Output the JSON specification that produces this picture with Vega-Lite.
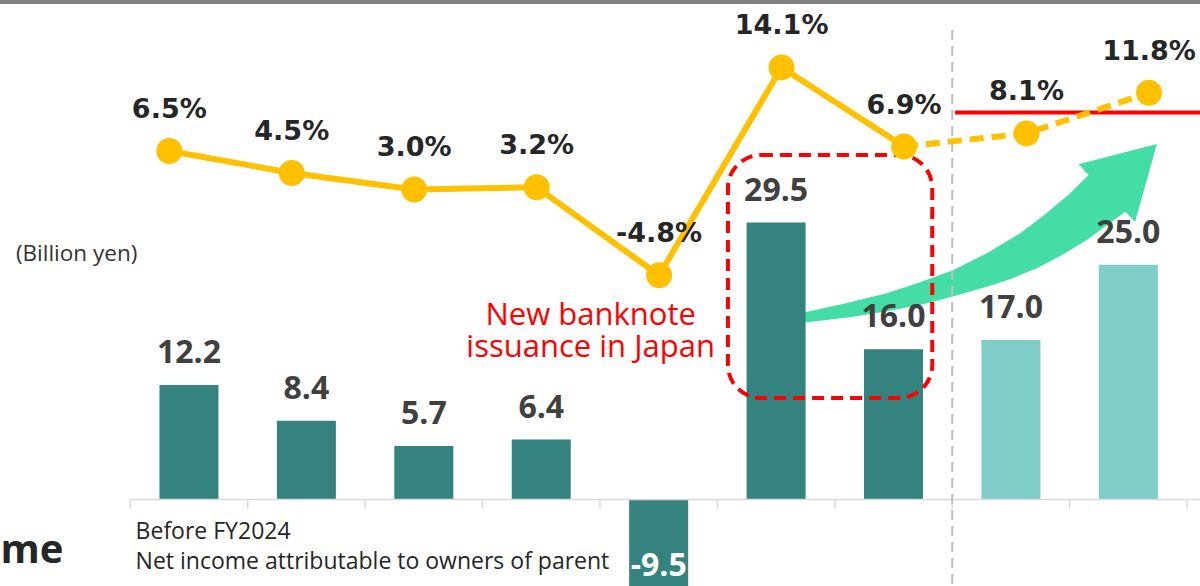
{
  "$schema": "https://vega.github.io/schema/vega-lite/v6.json",
  "width": 1200,
  "height": 586,
  "autosize": {"type": "none"},
  "padding": 0,
  "background": "white",
  "config": {"view": {"stroke": null}},
  "datasets": {
    "main": [
      {"idx": 0, "income": 12.2, "ratio": 6.5, "kind": "Actual"},
      {"idx": 1, "income": 8.4, "ratio": 4.5, "kind": "Actual"},
      {"idx": 2, "income": 5.7, "ratio": 3.0, "kind": "Actual"},
      {"idx": 3, "income": 6.4, "ratio": 3.2, "kind": "Actual"},
      {"idx": 4, "income": -9.5, "ratio": -4.8, "kind": "Actual"},
      {"idx": 5, "income": 29.5, "ratio": 14.1, "kind": "Actual"},
      {"idx": 6, "income": 16.0, "ratio": 6.9, "kind": "Actual"},
      {"idx": 7, "income": 17.0, "ratio": 8.1, "kind": "Forecast"},
      {"idx": 8, "income": 25.0, "ratio": 11.8, "kind": "Forecast"}
    ],
    "edges": [
      {"edge": -0.5}, {"edge": 0.5}, {"edge": 1.5}, {"edge": 2.5}, {"edge": 3.5},
      {"edge": 4.5}, {"edge": 5.5}, {"edge": 6.5}, {"edge": 7.5}, {"edge": 8.5}
    ]
  },
  "data": {"name": "main"},
  "transform": [
    {"calculate": "(datum.income < 0 ? '-' : '') + format(abs(datum.income), '.1f')", "as": "incomeLabel"},
    {"calculate": "(datum.ratio < 0 ? '-' : '') + format(abs(datum.ratio), '.1f') + '%'", "as": "ratioLabel"}
  ],
  "layer": [
    {
      "layer": [
        {
          "data": {"values": [{}]},
          "mark": {"type": "rule", "color": "#808080", "strokeWidth": 4},
          "encoding": {
            "y": {"datum": 52.99, "type": "quantitative", "scale": {"domain": [-9.201, 53.206], "nice": false}, "axis": null}
          }
        },
        {
          "data": {"values": [{}]},
          "mark": {"type": "point", "shape": "M-194.7,79.5 L-178.7,76 L-136.7,66.8 L-94.7,56.6 L-61.4,45.6 L-28,33.3 L5.3,16.5 L38.6,-3.4 L63.6,-22.4 L88.6,-43.4 L107,-61.7 L97,-72.4 L175.3,-92.7 L153.6,-15 L143.6,-25 L105.3,3.3 L80,18.5 L55.3,31.6 L30,42 L5.3,50 L-28,59.6 L-61.4,68.3 L-94.7,74.5 L-128,80 L-178.7,86 L-194.7,87.5 Z", "size": 4, "filled": true, "opacity": 1, "color": "#43DDA5", "strokeWidth": 0},
          "encoding": {
            "x": {"datum": 6.75, "type": "quantitative", "scale": {"domain": [-1.5667, 8.5676], "nice": false}, "axis": null},
            "y": {"datum": 28, "type": "quantitative", "scale": {"domain": [-9.201, 53.206], "nice": false}, "axis": null}
          }
        },
        {
          "mark": {"type": "bar", "width": 59, "orient": "vertical"},
          "encoding": {
            "x": {"field": "idx", "type": "quantitative", "scale": {"domain": [-1.5667, 8.5676], "nice": false}, "axis": null},
            "y": {"field": "income", "type": "quantitative", "scale": {"domain": [-9.201, 53.206], "nice": false}, "axis": null},
            "color": {"field": "kind", "type": "nominal", "scale": {"domain": ["Actual", "Forecast"], "range": ["#35837E", "#7FCDC7"]}, "legend": null}
          }
        },
        {
          "data": {"values": [{}]},
          "mark": {"type": "rule", "color": "#D9D9D9", "strokeWidth": 1.5},
          "encoding": {
            "x": {"datum": -0.5, "type": "quantitative", "scale": {"domain": [-1.5667, 8.5676], "nice": false}, "axis": null},
            "x2": {"datum": 8.7},
            "y": {"datum": 0, "type": "quantitative", "scale": {"domain": [-9.201, 53.206], "nice": false}, "axis": null}
          }
        },
        {
          "data": {"name": "edges"},
          "mark": {"type": "rule", "color": "#D9D9D9", "strokeWidth": 1.5},
          "encoding": {
            "x": {"field": "edge", "type": "quantitative", "scale": {"domain": [-1.5667, 8.5676], "nice": false}, "axis": null},
            "y": {"datum": 0, "type": "quantitative", "scale": {"domain": [-9.201, 53.206], "nice": false}, "axis": null},
            "y2": {"datum": -0.96}
          }
        },
        {
          "transform": [{"filter": "datum.income >= 0"}],
          "mark": {"type": "text", "font": "Open Sans", "fontWeight": "bold", "fontSize": 32, "color": "#404040", "dy": -22, "baseline": "alphabetic", "align": "center"},
          "encoding": {
            "x": {"field": "idx", "type": "quantitative", "scale": {"domain": [-1.5667, 8.5676], "nice": false}, "axis": null},
            "y": {"field": "income", "type": "quantitative", "scale": {"domain": [-9.201, 53.206], "nice": false}, "axis": null},
            "text": {"field": "incomeLabel"}
          }
        },
        {
          "transform": [{"filter": "datum.income < 0"}],
          "mark": {"type": "text", "font": "Open Sans", "fontWeight": "bold", "fontSize": 32, "color": "#FFFFFF", "dy": -13, "baseline": "alphabetic", "align": "center"},
          "encoding": {
            "x": {"field": "idx", "type": "quantitative", "scale": {"domain": [-1.5667, 8.5676], "nice": false}, "axis": null},
            "y": {"field": "income", "type": "quantitative", "scale": {"domain": [-9.201, 53.206], "nice": false}, "axis": null},
            "text": {"field": "incomeLabel"}
          }
        },
        {
          "data": {"values": [{}]},
          "mark": {"type": "rule", "color": "#BFBFBF", "strokeWidth": 2, "strokeDash": [10, 6]},
          "encoding": {
            "x": {"datum": 6.5, "type": "quantitative", "scale": {"domain": [-1.5667, 8.5676], "nice": false}, "axis": null},
            "y": {"datum": 50, "type": "quantitative", "scale": {"domain": [-9.201, 53.206], "nice": false}, "axis": null},
            "y2": {"datum": -9.2}
          }
        },
        {
          "data": {"values": [{}]},
          "mark": {"type": "rect", "filled": false, "color": "#FF0000", "strokeWidth": 4, "strokeDash": [12, 7], "cornerRadius": 33},
          "encoding": {
            "x": {"datum": 4.59, "type": "quantitative", "scale": {"domain": [-1.5667, 8.5676], "nice": false}, "axis": null},
            "x2": {"datum": 6.33},
            "y": {"datum": 36.7, "type": "quantitative", "scale": {"domain": [-9.201, 53.206], "nice": false}, "axis": null},
            "y2": {"datum": 10.82}
          }
        },
        {
          "data": {"values": [{}]},
          "mark": {"type": "text", "text": ["New banknote", "issuance in Japan"], "font": "Open Sans", "fontSize": 31, "color": "#FF0000", "align": "center", "baseline": "alphabetic", "lineHeight": 32},
          "encoding": {
            "x": {"datum": 3.4206, "type": "quantitative", "scale": {"domain": [-1.5667, 8.5676], "nice": false}, "axis": null},
            "y": {"datum": 18.59, "type": "quantitative", "scale": {"domain": [-9.201, 53.206], "nice": false}, "axis": null}
          }
        },
        {
          "data": {"values": [{}]},
          "mark": {"type": "text", "text": "(Billion yen)", "font": "Open Sans", "fontSize": 22.5, "color": "#333333", "align": "left", "baseline": "alphabetic"},
          "encoding": {
            "x": {"datum": -1.4738, "type": "quantitative", "scale": {"domain": [-1.5667, 8.5676], "nice": false}, "axis": null},
            "y": {"datum": 25.44, "type": "quantitative", "scale": {"domain": [-9.201, 53.206], "nice": false}, "axis": null}
          }
        },
        {
          "data": {"values": [{}]},
          "mark": {"type": "text", "text": ["Before FY2024", "Net income attributable to owners of parent"], "font": "Open Sans", "fontSize": 23, "color": "#262626", "align": "left", "baseline": "alphabetic", "lineHeight": 30},
          "encoding": {
            "x": {"datum": -0.4544, "type": "quantitative", "scale": {"domain": [-1.5667, 8.5676], "nice": false}, "axis": null},
            "y": {"datum": -4.196, "type": "quantitative", "scale": {"domain": [-9.201, 53.206], "nice": false}, "axis": null}
          }
        },
        {
          "data": {"values": [{}]},
          "mark": {"type": "text", "text": "me", "font": "Open Sans", "fontWeight": "bold", "fontSize": 40, "color": "#262626", "align": "right", "baseline": "alphabetic"},
          "encoding": {
            "x": {"datum": -1.0684, "type": "quantitative", "scale": {"domain": [-1.5667, 8.5676], "nice": false}, "axis": null},
            "y": {"datum": -6.78, "type": "quantitative", "scale": {"domain": [-9.201, 53.206], "nice": false}, "axis": null}
          }
        }
      ]
    },
    {
      "layer": [
        {
          "data": {"values": [{}]},
          "mark": {"type": "rule", "color": "#FF0000", "strokeWidth": 4},
          "encoding": {
            "x": {"datum": 6.417, "type": "quantitative", "scale": {"domain": [-1.3825, 8.4167], "nice": false}, "axis": null},
            "x2": {"datum": 8.6},
            "y": {"datum": 10, "type": "quantitative", "scale": {"domain": [-33.045, 20.227], "nice": false}, "axis": null}
          }
        },
        {
          "transform": [{"filter": "datum.idx <= 6"}],
          "mark": {"type": "line", "color": "#FFC000", "strokeWidth": 6},
          "encoding": {
            "x": {"field": "idx", "type": "quantitative", "scale": {"domain": [-1.3825, 8.4167], "nice": false}, "axis": null},
            "y": {"field": "ratio", "type": "quantitative", "scale": {"domain": [-33.045, 20.227], "nice": false}, "axis": null}
          }
        },
        {
          "transform": [{"filter": "datum.idx >= 6"}],
          "mark": {"type": "line", "color": "#FFC000", "strokeWidth": 6, "strokeDash": [14, 8]},
          "encoding": {
            "x": {"field": "idx", "type": "quantitative", "scale": {"domain": [-1.3825, 8.4167], "nice": false}, "axis": null},
            "y": {"field": "ratio", "type": "quantitative", "scale": {"domain": [-33.045, 20.227], "nice": false}, "axis": null}
          }
        },
        {
          "mark": {"type": "circle", "size": 675, "color": "#FFC000", "opacity": 1},
          "encoding": {
            "x": {"field": "idx", "type": "quantitative", "scale": {"domain": [-1.3825, 8.4167], "nice": false}, "axis": null},
            "y": {"field": "ratio", "type": "quantitative", "scale": {"domain": [-33.045, 20.227], "nice": false}, "axis": null}
          }
        },
        {
          "mark": {"type": "text", "font": "DejaVu Sans", "fontWeight": "bold", "fontSize": 27, "color": "#262626", "dy": -33, "baseline": "alphabetic", "align": "center"},
          "encoding": {
            "x": {"field": "idx", "type": "quantitative", "scale": {"domain": [-1.3825, 8.4167], "nice": false}, "axis": null},
            "y": {"field": "ratio", "type": "quantitative", "scale": {"domain": [-33.045, 20.227], "nice": false}, "axis": null},
            "text": {"field": "ratioLabel"}
          }
        }
      ]
    }
  ],
  "resolve": {"scale": {"x": "independent", "y": "independent"}}
}
